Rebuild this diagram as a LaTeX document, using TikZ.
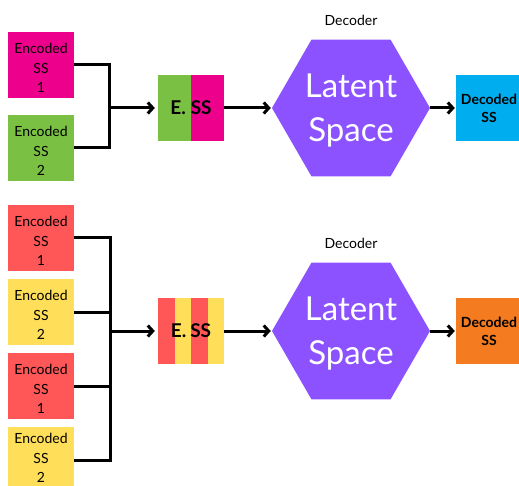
\documentclass[tikz,border=0pt]{standalone}
\usepackage{fontspec}
\setmainfont{Lato}
\usetikzlibrary{arrows.meta,shapes.geometric}

\definecolor{ssPink}{HTML}{EC008C}
\definecolor{ssGreen}{HTML}{7AC143}
\definecolor{ssRed}{HTML}{FF5757}
\definecolor{ssYellow}{HTML}{FFDE59}
\definecolor{hexPurple}{HTML}{8C52FF}
\definecolor{outBlue}{HTML}{00AEEF}
\definecolor{outOrange}{HTML}{F47B20}

\tikzstyle{ssbox} = [minimum size=66pt, inner sep=0pt]
\tikzstyle{sstext} = [yshift=-3pt, align=center, font=\fontsize{14}{19.5}\selectfont]
\tikzstyle{essbox} = [minimum size=66pt, inner sep=0pt, font=\bfseries\fontsize{19}{22}\selectfont]
\tikzstyle{decbox} = [minimum size=66pt, inner sep=0pt, align=center, font=\bfseries\fontsize{14}{18}\selectfont]
\tikzstyle{latent} = [regular polygon, regular polygon sides=6, minimum size=158pt, inner sep=0pt, fill=hexPurple]
\tikzstyle{lattext} = [yshift=-3pt, text=white, align=center, font=\fontsize{33}{44}\selectfont]
\tikzstyle{link} = [line width=3pt, line join=miter]
\tikzstyle{flow} = [line width=3pt, -{Straight Barb[length=5pt,width=11pt]}]

\begin{document}
\begin{tikzpicture}[x=1pt, y=-1pt]
      \useasboundingbox (0,0) rectangle (519,486);
      \clip (0,0) rectangle (519,486);

      % top: two encoded sequences
      \node[ssbox, fill=ssPink, label={[sstext]center:Encoded\\SS\\1}] (enc1) at (41, 65) {};
      \node[ssbox, fill=ssGreen, label={[sstext]center:Encoded\\SS\\2}] (enc2) at (41, 148) {};
      \coordinate (jtop) at (109, 108);
      \node[essbox, path picture={
          \fill[ssGreen] (path picture bounding box.south west) rectangle (path picture bounding box.north);
          \fill[ssPink] (path picture bounding box.south) rectangle (path picture bounding box.north east);
        }] (ess1) at (191, 108) {E.\hspace{5pt}SS};
      \node (dec1) at (351, 20) {\fontsize{14}{16}\selectfont Decoder};
      \node[latent, label={[lattext]center:Latent\\Space}] (lat1) at (351, 108) {};
      \node[decbox, fill=outBlue] (out1) at (489, 108) {Decoded\\SS};

      \draw[link] (enc1.east) -| (jtop);
      \draw[link] (enc2.east) -| (jtop);
      \draw[flow, shorten >=3pt] (jtop) -- (jtop -| ess1.west);
      \draw[flow, shorten >=1pt] (ess1.east) -- (lat1.west);
      \draw[flow, shorten >=1pt] (lat1.east) -- (out1.west);

      % bottom: four encoded sequences
      \node[ssbox, fill=ssRed, label={[sstext]center:Encoded\\SS\\1}] (enc3) at (41, 238) {};
      \node[ssbox, fill=ssYellow, label={[sstext]center:Encoded\\SS\\2}] (enc4) at (41, 312) {};
      \node[ssbox, fill=ssRed, label={[sstext]center:Encoded\\SS\\1}] (enc5) at (41, 386) {};
      \node[ssbox, fill=ssYellow, label={[sstext, yshift=5pt]center:Encoded\\SS\\2}] (enc6) at (41, 460) {};
      \coordinate (jbot) at (110, 331);
      \node[essbox, path picture={
          \fill[ssRed] (path picture bounding box.south west) rectangle ++(16.5pt, 66pt);
          \fill[ssYellow] ([xshift=16.5pt]path picture bounding box.south west) rectangle ++(16.5pt, 66pt);
          \fill[ssRed] ([xshift=33pt]path picture bounding box.south west) rectangle ++(16.5pt, 66pt);
          \fill[ssYellow] ([xshift=49.5pt]path picture bounding box.south west) rectangle ++(16.5pt, 66pt);
        }] (ess2) at (191, 331) {E.\hspace{4pt}SS};
      \node (dec2) at (351, 243) {\fontsize{14}{16}\selectfont Decoder};
      \node[latent, label={[lattext]center:Latent\\Space}] (lat2) at (351, 331) {};
      \node[decbox, fill=outOrange] (out2) at (489, 331) {Decoded\\SS};

      \draw[link] (enc3.east) -| (jbot);
      \draw[link] (enc6.east) -| (jbot);
      \draw[link] (enc4.east) -- (enc4.east -| jbot);
      \draw[link] (enc5.east) -- (enc5.east -| jbot);
      \draw[flow, shorten >=3pt] (jbot) -- (jbot -| ess2.west);
      \draw[flow, shorten >=1pt] (ess2.east) -- (lat2.west);
      \draw[flow, shorten >=1pt] (lat2.east) -- (out2.west);
    \end{tikzpicture}
\end{document}
